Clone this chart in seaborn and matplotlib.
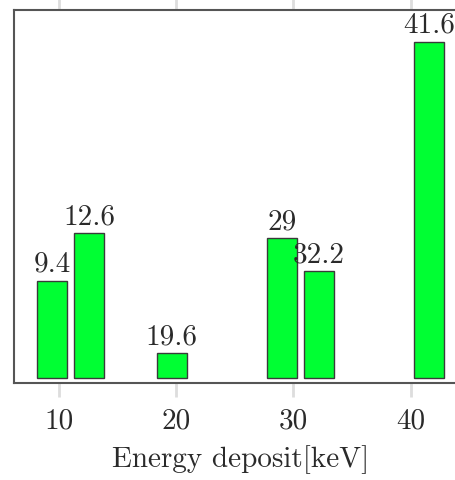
import matplotlib
matplotlib.use("Agg")
import matplotlib.pyplot as plt
import seaborn as sns
import pandas as pd

# Peak energies (keV) and relative intensities
energies = [9.4, 12.6, 19.6, 29.0, 32.2, 41.6]
intensities = [28.9, 43.0, 7.4, 41.5, 31.8, 100.0]
energy_labels = ["9.4", "12.6", "19.6", "29", "32.2", "41.6"]
x_ticks = [10, 20, 30, 40]

sns.set_theme(style="white")
plt.rcParams["font.family"] = ["cmr10", "DejaVu Serif"]
plt.rcParams["axes.formatter.use_mathtext"] = True

df = pd.DataFrame({"energy": energies, "intensity": intensities})

fig = plt.figure(figsize=(4.56, 4.8), dpi=100)
ax = fig.add_axes([0.0307, 0.202, 0.995, 0.777])

sns.barplot(data=df, x="energy", y="intensity", native_scale=True,
            color="#00ff33", saturation=1, edgecolor="#3a3a3a", linewidth=1.0,
            ax=ax)

for container in ax.containers:
    ax.bar_label(container, labels=energy_labels, padding=2, fontsize=21,
                 color="#2a2a2a", clip_on=False)

ax.set_xlim(6.16, 44.87)
ax.set_ylim(-1.6, 109.4)
ax.set_xticks(x_ticks)
ax.set_xticklabels([str(t) for t in x_ticks], fontsize=21, color="#2a2a2a")
ax.set_yticks([])
ax.set_ylabel("")
ax.set_xlabel("Energy deposit[keV]", fontsize=21, color="#2a2a2a", labelpad=8)

ax.tick_params(axis="x", which="major", direction="out", length=10,
               width=2, color="#dddddd", top=True, bottom=True,
               labeltop=False, pad=8)

for side in ["left", "bottom", "top", "right"]:
    ax.spines[side].set_visible(True)
    ax.spines[side].set_color("#555555")
    ax.spines[side].set_linewidth(1.5)

fig.savefig("out.png", dpi=100)
